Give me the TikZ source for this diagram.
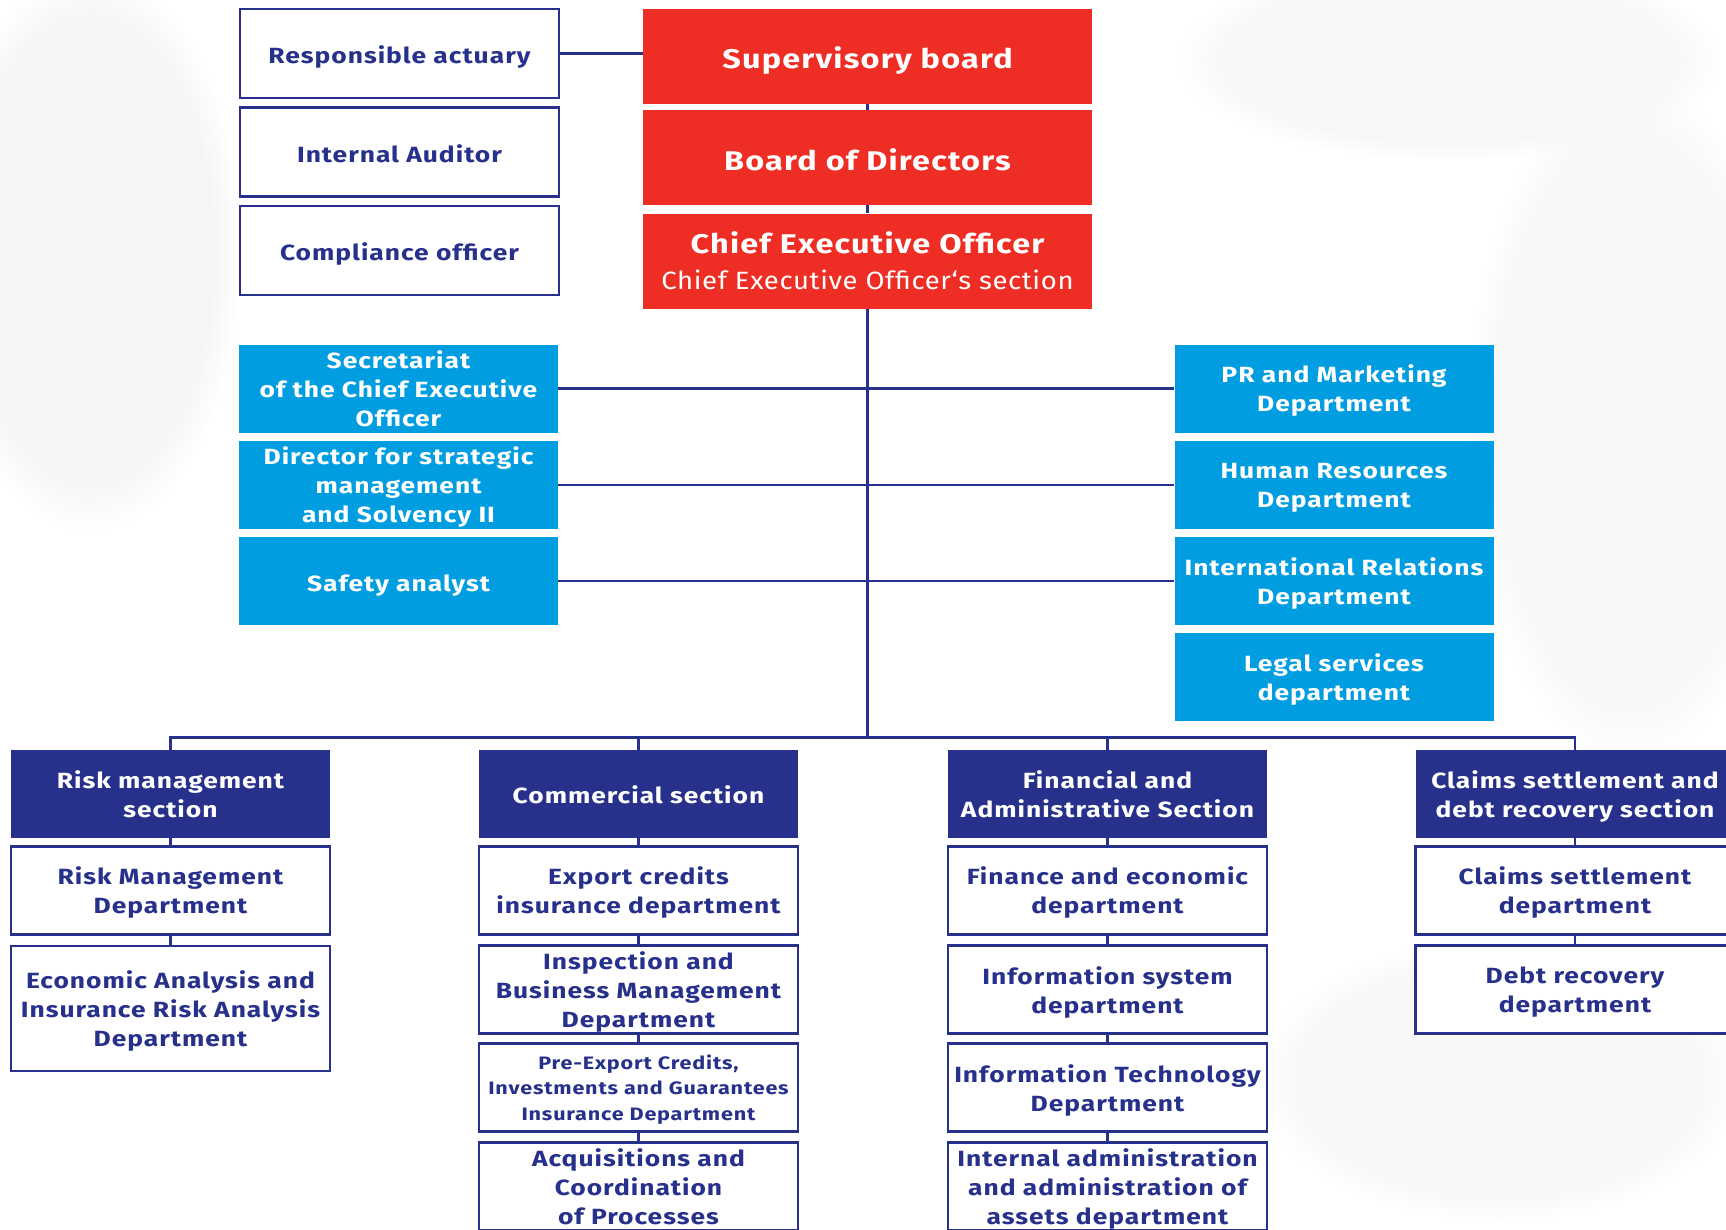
\documentclass[tikz,border=0pt]{standalone}
\usepackage{fontspec}
\setmainfont{Fira Sans}[FakeStretch=1.2, LetterSpace=4.5]
\newfontfamily\regfont{Fira Sans}[FakeStretch=1.1, LetterSpace=2.5]
\usetikzlibrary{fadings}
\definecolor{navy}{HTML}{27318B}
\definecolor{redc}{HTML}{EE2E24}
\definecolor{cyanc}{HTML}{009EE0}
\tikzset{
  base/.style={rectangle, align=center, inner sep=0pt, minimum width=319pt, minimum height=88pt,
    text depth=0pt, font=\bfseries\fontsize{22}{29}\selectfont},
  wbox/.style={base, draw=navy, line width=2.6pt, fill=white, text=navy},
  rbox/.style={base, fill=redc, text=white, minimum width=449pt, minimum height=95pt,
    font=\bfseries\fontsize{27}{34}\selectfont},
  cbox/.style={base, fill=cyanc, text=white},
  hbox/.style={base, fill=navy, text=white},
  oneline/.style={text height=20.5pt, text depth=0pt},
  onebig/.style={text height=25.5pt, text depth=0pt},
  conn/.style={draw=navy, line width=2.4pt},
}
\begin{document}
\begin{tikzpicture}[x=1pt,y=-1pt]
\useasboundingbox (0,0) rectangle (1726,1229);
\fill[white] (0,0) rectangle (1726,1229);
% faint cloudy background
\fill[black!4, path fading=circle with fuzzy edge 20 percent] (90,250) ellipse (150pt and 280pt);
\fill[black!3, path fading=circle with fuzzy edge 20 percent] (1630,420) ellipse (160pt and 340pt);
\fill[black!3, path fading=circle with fuzzy edge 20 percent] (1450,60) ellipse (270pt and 100pt);
\fill[black!3, path fading=circle with fuzzy edge 20 percent] (1500,1080) ellipse (240pt and 140pt);

% top left white boxes
\node[wbox, oneline, minimum height=89pt] (act) at (399.5,53.5) {Responsible actuary};
\node[wbox, oneline, minimum height=89pt] (aud) at (399.5,152) {Internal Auditor};
\node[wbox, oneline, minimum height=89pt] (comp) at (399.5,250.5) {Compliance officer};

% red boxes
\node[rbox, onebig] (sup) at (867.5,56) {Supervisory board};
\node[rbox, onebig] (bod) at (867.5,157.5) {Board of Directors};
\node[rbox] (ceo) at (867.5,261) {Chief Executive Officer\\[2pt]{\regfont\mdseries\fontsize{25}{30}\selectfont Chief Executive Officer‘s section}};

% cyan boxes
\node[cbox] (sec) at (398.5,388.5) {Secretariat\\of the Chief Executive\\Officer};
\node[cbox] (dir) at (398.5,485) {Director for strategic\\management\\and Solvency II};
\node[cbox, oneline] (saf) at (398.5,581) {Safety analyst};
\node[cbox] (pr) at (1334,388.5) {PR and Marketing\\Department};
\node[cbox] (hr) at (1334,485) {Human Resources\\Department};
\node[cbox] (ir) at (1334,581) {International Relations\\Department};
\node[cbox] (leg) at (1334,677) {Legal services\\department};

% section headers
\node[hbox] (h1) at (170.5,793.7) {Risk management\\section};
\node[hbox, oneline] (h2) at (638.5,793.7) {Commercial section};
\node[hbox] (h3) at (1107.5,793.7) {Financial and\\Administrative Section};
\node[hbox] (h4) at (1575,793.7) {Claims settlement and\\debt recovery section};

% column 1
\node[wbox] (a1) at (170.5,890.5) {Risk Management\\Department};
\node[wbox, minimum height=125pt] (a2) at (170.5,1008.3) {Economic Analysis and\\Insurance Risk Analysis\\Department};
% column 2
\node[wbox] (b1) at (638.5,890.5) {Export credits\\insurance department};
\node[wbox] (b2) at (638.5,989.7) {Inspection and\\Business Management\\Department};
\node[wbox, font=\bfseries\fontsize{18}{25.5}\selectfont] (b3) at (638.5,1087.6) {Pre-Export Credits,\\Investments and Guarantees\\Insurance Department};
\node[wbox] (b4) at (638.5,1186.6) {Acquisitions and\\Coordination\\of Processes};
% column 3
\node[wbox] (c1) at (1107.5,890.5) {Finance and economic\\department};
\node[wbox] (c2) at (1107.5,989.7) {Information system\\department};
\node[wbox] (c3) at (1107.5,1087.6) {Information Technology\\Department};
\node[wbox] (c4) at (1107.5,1186.6) {Internal administration\\and administration of\\assets department};
% column 4
\node[wbox] (d1) at (1575,890.5) {Claims settlement\\department};
\node[wbox] (d2) at (1575,989.7) {Debt recovery\\department};

\coordinate (bus) at (867.5,737.5);

% connectors
\draw[conn] (act.east) -- (act.east -| sup.west);
\draw[conn] (sup.south) -- (bod.north);
\draw[conn] (bod.south) -- (ceo.north);
\draw[conn] (ceo.south) -- (bus);
\draw[conn] (sec.east) -- (pr.west);
\draw[conn] (dir.east) -- (hr.west);
\draw[conn] (saf.east) -- (ir.west);
\draw[conn] (h1.north) -- (h1.north |- bus) -- (h4.north |- bus) -- (h4.north);
\draw[conn] (h2.north) -- (h2.north |- bus);
\draw[conn] (h3.north) -- (h3.north |- bus);
\draw[conn] (h1.south) -- (a1.north);
\draw[conn] (a1.south) -- (a2.north);
\draw[conn] (h2.south) -- (b1.north);
\draw[conn] (b1.south) -- (b2.north);
\draw[conn] (b2.south) -- (b3.north);
\draw[conn] (b3.south) -- (b4.north);
\draw[conn] (h3.south) -- (c1.north);
\draw[conn] (c1.south) -- (c2.north);
\draw[conn] (c2.south) -- (c3.north);
\draw[conn] (c3.south) -- (c4.north);
\draw[conn] (h4.south) -- (d1.north);
\draw[conn] (d1.south) -- (d2.north);
\end{tikzpicture}
\end{document}
